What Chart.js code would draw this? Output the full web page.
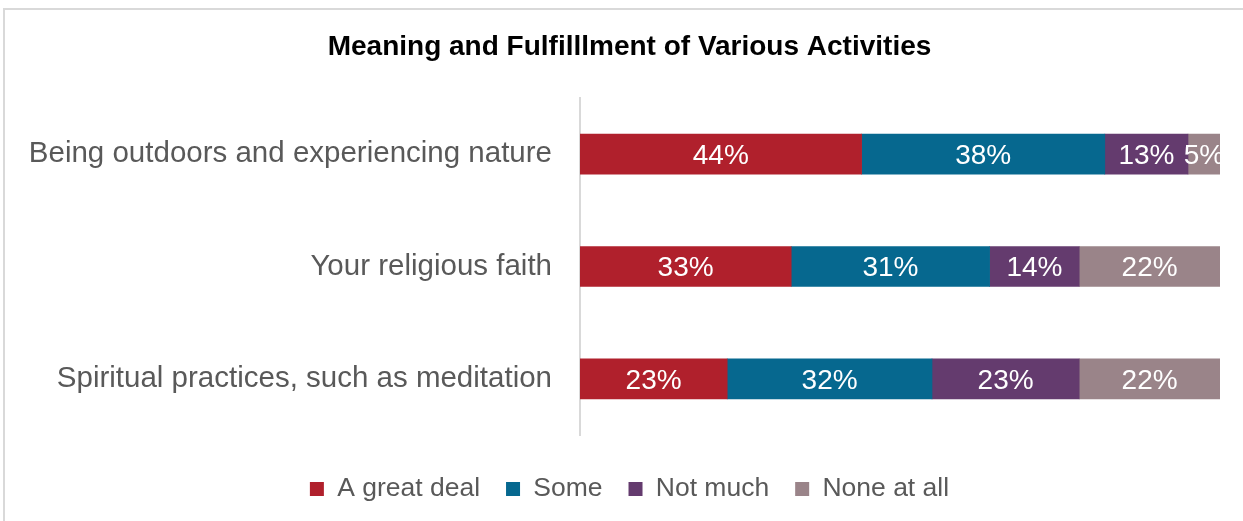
<!DOCTYPE html>
<html>
<head>
<meta charset="utf-8">
<title>Meaning and Fulfillment</title>
<script src="https://cdn.jsdelivr.net/npm/chart.js@4.4.1/dist/chart.umd.min.js"></script>
<style>
    html, body { margin: 0; padding: 0; background: #fff; overflow: hidden; }
    #frame { position: absolute; left: 3px; top: 8px; width: 1300px; height: 600px; border: 2px solid #d9d9d9; }
    #chart { position: absolute; left: 0; top: 0; }
</style>
</head>
<body>
<div id="frame"></div>
<canvas id="chart" width="1243" height="521"></canvas>
<script>
// Activities (rows) and answer shares in percent
const activities = [
    'Being outdoors and experiencing nature',
    'Your religious faith',
    'Spiritual practices, such as meditation'
];
const greatDeal = [44, 33, 23];
const some = [38, 31, 32];
const notMuch = [13, 14, 23];
const noneAtAll = [5, 22, 22];

const seriesNames = ['A great deal', 'Some', 'Not much', 'None at all'];
const seriesColors = ['#b0202c', '#06688f', '#643b6e', '#9a8489'];
const seriesValues = [greatDeal, some, notMuch, noneAtAll];

const labelFont = '"Liberation Sans", Arial, sans-serif';

// Writes the percentage in the middle of each bar segment
const barLabels = {
    id: 'barLabels',
    afterDatasetsDraw(chart) {
        const ctx = chart.ctx;
        ctx.save();
        ctx.font = '28px ' + labelFont;
        ctx.fillStyle = '#ffffff';
        ctx.textAlign = 'center';
        ctx.textBaseline = 'middle';
        chart.data.datasets.forEach((ds, i) => {
            chart.getDatasetMeta(i).data.forEach((bar, j) => {
                ctx.fillText(ds.data[j] + '%', (bar.x + bar.base) / 2, bar.y + 2);
            });
        });
        ctx.restore();
    }
};

// The long category names run past the left padding; let the y axis box
// (and so its label clip) reach the canvas edge
const widenLabelArea = {
    id: 'widenLabelArea',
    afterLayout(chart) {
        chart.scales.y.left = 0;
    }
};

const datasets = seriesNames.map((name, i) => ({
    label: name,
    data: seriesValues[i],
    backgroundColor: seriesColors[i],
    borderWidth: 0,
    barThickness: 40
}));

new Chart(document.getElementById('chart'), {
    type: 'bar',
    data: { labels: activities, datasets: datasets },
    options: {
        indexAxis: 'y',
        responsive: false,
        animation: false,
        layout: { padding: { left: 39, right: 23, top: 0, bottom: 8.75 } },
        plugins: {
            title: {
                display: true,
                text: 'Meaning and Fulfilllment of Various Activities',
                color: '#000000',
                font: { family: labelFont, size: 28, weight: 'bold' },
                padding: { top: 30, bottom: 34.4 }
            },
            legend: {
                position: 'bottom',
                labels: {
                    color: '#595959',
                    font: { family: labelFont, size: 26.5 },
                    boxWidth: 14,
                    boxHeight: 14,
                    padding: 26
                }
            },
            tooltip: { enabled: false }
        },
        scales: {
            x: {
                stacked: true,
                min: 0,
                max: 100,
                ticks: { display: false },
                grid: { display: false, drawTicks: false },
                border: { display: false },
                afterFit: scale => { scale.height = 14.75; }
            },
            y: {
                stacked: true,
                ticks: {
                    color: '#595959',
                    font: { family: labelFont, size: 29.5 },
                    padding: 28
                },
                grid: { display: false, drawTicks: false },
                border: { display: true, color: '#d9d9d9', width: 2 },
                afterFit: scale => { scale.width = 541; }
            }
        }
    },
    plugins: [barLabels, widenLabelArea]
});
</script>
</body>
</html>
